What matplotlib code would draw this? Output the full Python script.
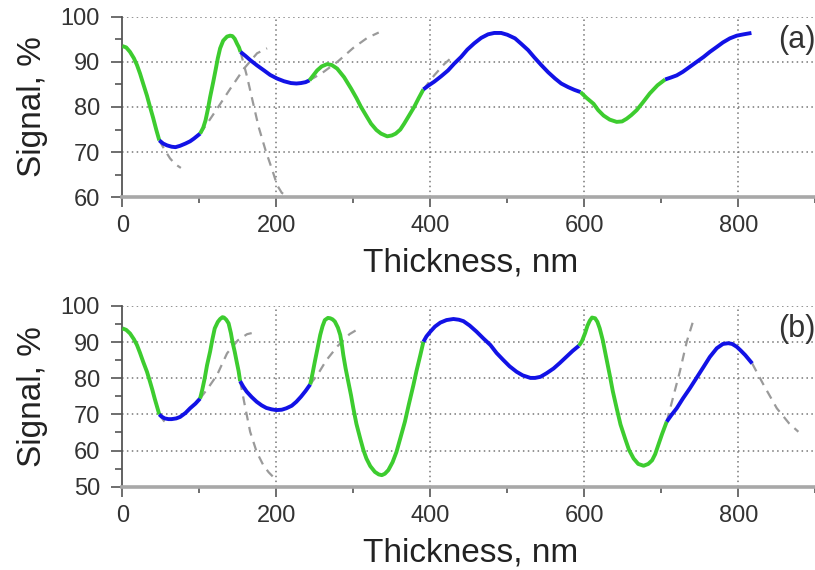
"""
Signal vs film thickness, two panels (a) and (b)
"""
import matplotlib
matplotlib.use('Agg')
import matplotlib.pyplot as plt
from matplotlib.ticker import MultipleLocator

plt.rcParams['font.family'] = ['Liberation Sans', 'DejaVu Sans']

# ======================================================================================================================
# Data
GREEN = '#3dcc2f'
BLUE = '#1212e6'
GREY = '#9a9a9a'

# panel (a): main curve, colour switches at the break thicknesses
a_x = [0, 5, 10, 15, 19, 23, 27, 32, 36, 40, 44, 48,
       53, 58, 64, 69, 75, 82, 88, 93, 101,
       105, 108, 111, 114, 118, 121, 124, 127, 131, 136, 140, 143, 146, 149, 151.5, 153.5,
       160, 166, 175, 184, 192, 201, 210, 219, 226, 232, 238, 243,
       248, 253, 259, 266, 272, 279, 288, 297, 304, 310, 317, 323, 330, 336, 344, 350, 355, 361, 366, 372, 379,
       385, 391,
       398, 405, 414, 423, 431, 440, 448, 457, 466, 475, 483, 492, 500, 510, 518, 527, 535, 544, 553, 562, 570,
       579, 587, 595,
       603, 612, 618, 625, 633, 642, 649, 655, 661, 668, 676, 685, 695, 705,
       712, 720, 728, 737, 746, 755, 763, 772, 780, 789, 798, 807, 817]
a_y = [93.5, 93.2, 92.2, 90.8, 89.3, 87.4, 85.2, 82.5, 80, 77.6, 75, 72.6,
       71.9, 71.5, 71.2, 71.1, 71.4, 71.9, 72.4, 73, 74.1,
       75.4, 77, 79.4, 82.2, 85.5, 88.1, 90.8, 93, 94.7, 95.6, 95.8, 95.7, 95.1, 94, 93.2, 92.2,
       91.3, 90.4, 89.2, 88.1, 87.1, 86.3, 85.7, 85.3, 85.2, 85.3, 85.5, 85.9,
       87, 88.1, 89, 89.5, 89.3, 88.5, 86.6, 84.1, 82, 80, 78, 76.3, 74.9, 74.1, 73.5, 73.7, 74.1, 75, 76.3, 78, 80,
       82, 83.9,
       84.8, 85.6, 86.8, 88.1, 89.6, 91.1, 92.7, 94.1, 95.3, 96.1, 96.4, 96.4, 96, 95.2, 94, 92.6, 91, 89.3, 87.7,
       86.3, 85.2, 84.4, 83.8, 83.3,
       82, 80.7, 79.3, 78.1, 77.2, 76.7, 76.8, 77.4, 78.2, 79.3, 81, 83, 84.8, 86.1,
       86.5, 87, 87.8, 88.9, 90, 91.1, 92.2, 93.3, 94.3, 95.2, 95.8, 96.1, 96.4]
a_breaks = [48, 101, 153.5, 243, 391, 595, 705]

# panel (a): grey dashed continuations
a_dash_x = [[48, 55, 62, 69, 76],
            [101, 112, 123, 140, 158, 175, 188],
            [153.5, 162, 171, 177, 186, 195, 201, 207, 214],
            [243, 260, 280, 300, 318, 333],
            [391, 405, 418, 428]]
a_dash_y = [[72.6, 70.5, 68.6, 67.3, 66.5],
            [74.1, 76.8, 79.6, 84, 88.5, 91.9, 93],
            [92.2, 86.7, 80, 75.6, 70.4, 65.9, 62.7, 61, 60.2],
            [85.9, 87.6, 90.1, 93.1, 95.3, 96.5],
            [83.9, 87, 89.5, 91]]

# panel (b)
b_x = [0, 5, 10, 15, 19, 23, 27, 32, 36, 39, 42, 45, 48,
       51, 55, 60, 64, 70, 75, 82, 88, 95, 101,
       104, 107, 110, 114, 117, 120, 124, 127, 130, 132, 135, 138, 141, 143, 146, 148.5, 151, 153,
       157, 161.5, 168, 174.5, 181, 187, 194, 200, 207, 213, 220, 226, 232, 238, 244,
       247, 250, 254, 257, 260, 263, 267, 270, 273, 276, 280, 283, 285, 287, 290, 293.5, 297, 300, 304, 309, 313,
       317, 322, 328, 333, 337, 341, 345.5, 351, 356, 361, 367, 372, 378, 382, 387, 391,
       395, 400, 406, 413, 421, 430, 437, 443, 451, 460, 469, 478, 486, 495, 503, 512, 520, 530, 536, 543, 551,
       560, 568, 577, 585, 593,
       597, 601, 604, 607, 610, 614, 617, 620, 624, 628, 633, 637, 642, 647, 653, 658, 664, 670, 677, 683, 688,
       692, 696, 701, 707,
       713, 720, 728, 737, 746, 755, 763, 772, 780, 787, 792, 798, 803, 809, 818]
b_y = [93.8, 93.4, 92.4, 90.8, 89.2, 87, 84.6, 81.8, 79, 76.8, 74.4, 72.2, 70,
       69.4, 68.9, 68.7, 68.7, 68.9, 69.3, 70.4, 71.7, 73, 74.4,
       77, 80, 83.6, 87.4, 90.8, 93.8, 95.6, 96.4, 96.9, 96.8, 96.2, 95.2, 92.5, 90.1, 87.3, 84.6, 82, 79.2,
       77.7, 76.3, 74.8, 73.5, 72.5, 71.8, 71.4, 71.2, 71.3, 71.7, 72.4, 73.5, 74.9, 76.5, 78.3,
       81.3, 84.6, 88.8, 92, 94.4, 96.1, 96.7, 96.6, 96.3, 95.7, 94, 92, 89.5, 86.4, 82.7, 79, 75.3, 71.7, 67.4,
       63.3, 60.2, 57.8, 55.7, 54.1, 53.4, 53.2, 53.6, 54.6, 56.8, 59.6, 63.4, 68, 72.7, 78.1, 82, 86.4, 90.1,
       91.6, 92.9, 94.3, 95.4, 96.1, 96.4, 96.2, 95.8, 94.6, 92.9, 91, 89.2, 87, 85, 83.3, 81.8, 80.8, 80.1, 80.1,
       80.4, 81.4, 82.7, 84.2, 86, 87.6, 89,
       90.3, 92.5, 94.5, 95.9, 96.8, 96.6, 95.6, 93.8, 90.5, 86.2, 80.9, 76.4, 71.7, 67.2, 63.3, 60.2, 57.8, 56.3,
       55.8, 56.3, 57.3, 59, 61.5, 64.6, 68,
       69.8, 71.7, 74.4, 77.2, 80.2, 83.2, 85.9, 88.3, 89.5, 89.7, 89.5, 88.7, 87.7, 86.4, 84.1]
b_breaks = [48, 101, 153, 244, 391, 593, 707]

b_dash_x = [[48, 54, 60],
            [101, 112, 123, 136, 150, 162, 168],
            [153, 159, 166, 174.5, 183, 190, 196],
            [244, 255, 265, 280, 295, 306],
            [707, 716, 724, 733, 742],
            [818, 833, 850, 866, 878]]
b_dash_y = [[70, 68.2, 67.3],
            [74.4, 77.5, 80.9, 86.9, 90.5, 92.2, 92.5],
            [79.2, 72.6, 65.2, 59.6, 56, 54, 52.7],
            [78.3, 81.5, 85, 89, 92.2, 93.6],
            [68, 75.3, 81.8, 90.1, 96.3],
            [84.1, 78.1, 71.7, 67.5, 65.2]]

X_TICKS = [0, 200, 400, 600, 800]


# ======================================================================================================================
def splitSegments(xs, ys, breaks):
    """Cut the curve at the break thicknesses, alternating green / blue starting with green"""
    assert len(xs) == len(ys)
    edges = [xs[0]] + breaks + [xs[-1]]
    segs = []
    for i in range(len(edges) - 1):
        pts = [(x, y) for x, y in zip(xs, ys) if edges[i] <= x <= edges[i + 1]]
        segs.append(([p[0] for p in pts], [p[1] for p in pts], GREEN if i % 2 == 0 else BLUE))
    return segs


# ======================================================================================================================
def drawPanel(ax, xs, ys, breaks, dashX, dashY, yMin, tag):
    for dx, dy in zip(dashX, dashY):
        ax.plot(dx, dy, color=GREY, lw=1.6, ls=(0, (4, 3)), zorder=2)
    for sx, sy, col in splitSegments(xs, ys, breaks):
        ax.plot(sx, sy, color=col, lw=2.8, solid_capstyle='butt', solid_joinstyle='round', zorder=3)

    ax.set_xlim(0, 900)
    ax.set_ylim(yMin, 100)
    ax.set_xticks(X_TICKS)
    ax.xaxis.set_minor_locator(MultipleLocator(100))
    ax.yaxis.set_minor_locator(MultipleLocator(5))
    ax.set_yticks(range(yMin, 101, 10))

    for side in ['top', 'right']:
        ax.spines[side].set_visible(False)
    ax.spines['left'].set_color('#555555')
    ax.spines['left'].set_linewidth(1.3)
    ax.spines['bottom'].set_color('#a8a8a8')
    ax.spines['bottom'].set_linewidth(2.6)

    ax.tick_params(axis='both', which='both', direction='out', colors='#555555', labelcolor='#333333',
                   labelsize=17, width=1.2)
    ax.tick_params(axis='y', which='major', length=8, pad=8)
    ax.tick_params(axis='y', which='minor', length=5)
    ax.tick_params(axis='x', which='major', length=7, pad=6)
    ax.tick_params(axis='x', which='minor', length=4)

    for v in X_TICKS[1:]:
        ax.axvline(v, color='#777777', lw=1.1, ls=(0, (1, 2.2)), zorder=1)
    for v in range(yMin + 10, 101, 10):
        ax.axhline(v, color='#777777', lw=1.1, ls=(0, (1, 2.2)), zorder=1)

    ax.set_xlabel('Thickness, nm', fontsize=24, color='#222222', va='center')
    ax.xaxis.set_label_coords(0.502, -0.365)
    ax.set_ylabel('Signal, %', fontsize=24, color='#222222', va='center')
    ax.yaxis.set_label_coords(-0.13, 0.5)
    ax.text(0.974, 0.87, tag, transform=ax.transAxes, fontsize=22, color='#333333',
            ha='center', va='center')


# ======================================================================================================================
fig = plt.figure(figsize=[8.15, 5.7], dpi=100)
axA = fig.add_axes([0.1501, 0.6539, 0.8503, 0.3168])
axB = fig.add_axes([0.1501, 0.1461, 0.8503, 0.3171])

drawPanel(axA, a_x, a_y, a_breaks, a_dash_x, a_dash_y, 60, '(a)')
drawPanel(axB, b_x, b_y, b_breaks, b_dash_x, b_dash_y, 50, '(b)')

fig.savefig('out.png', dpi=100)
